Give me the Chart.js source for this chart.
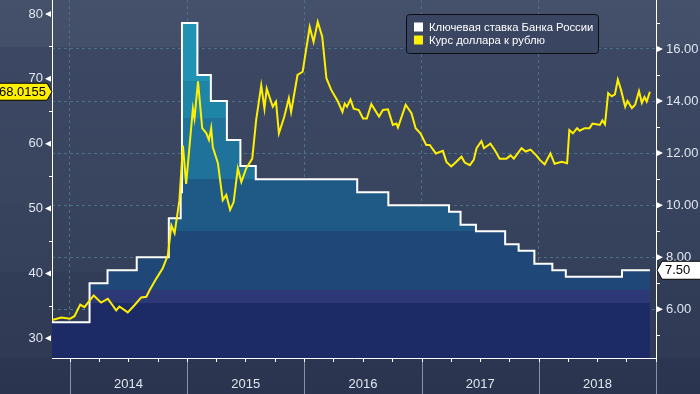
<!DOCTYPE html>
<html>
<head>
<meta charset="utf-8">
<script src="https://cdn.jsdelivr.net/npm/chart.js@4.4.1/dist/chart.umd.min.js"></script>
<style>
  html, body { margin: 0; padding: 0; background: #2b3550; }
  #wrap { width: 700px; height: 394px; }
</style>
</head>
<body>
<div id="wrap"><canvas id="chart" width="700" height="394"></canvas></div>
<script>
const fontFamily = "'Liberation Sans', Arial, sans-serif";
const labelColor = '#dfe6f0';
const gridColor = '#4b7089';

const rateLabel = 'Ключевая ставка Банка России';
const usdLabel = 'Курс доллара к рублю';

// ключевая ставка ЦБ (дата изменения -> значение), правая ось
const rateDates = ['2013-11-06', '2014-03-03', '2014-04-28', '2014-07-28', '2014-11-05', '2014-12-12',
  '2014-12-16', '2015-02-02', '2015-03-16', '2015-05-05', '2015-06-16', '2015-08-03', '2016-06-14',
  '2016-09-19', '2017-03-27', '2017-05-02', '2017-06-19', '2017-09-18', '2017-10-30', '2017-12-18',
  '2018-02-12', '2018-03-26', '2018-09-17', '2018-12-13'];
const rateValues = [5.5, 7, 7.5, 8, 9.5, 10.5, 17, 15, 14, 12.5, 11.5, 11, 10.5,
  10, 9.75, 9.25, 9, 8.5, 8.25, 7.75, 7.5, 7.25, 7.5, 7.5];

// курс USD/RUB, левая ось
const usdDates = ['2013-11-06', '2013-12-05', '2014-01-01', '2014-01-15', '2014-02-02', '2014-02-15',
  '2014-03-16', '2014-04-08', '2014-04-29', '2014-05-25', '2014-06-04', '2014-06-30', '2014-07-21',
  '2014-08-11', '2014-08-27', '2014-09-06', '2014-09-27', '2014-10-17', '2014-11-02', '2014-11-13',
  '2014-11-23', '2014-12-08', '2014-12-19', '2014-12-29', '2015-01-19', '2015-01-24', '2015-02-04',
  '2015-02-17', '2015-03-02', '2015-03-10', '2015-03-17', '2015-03-22', '2015-04-07', '2015-04-22',
  '2015-05-03', '2015-05-15', '2015-05-26', '2015-06-08', '2015-06-19', '2015-07-04', '2015-07-23',
  '2015-08-04', '2015-08-20', '2015-08-30', '2015-09-06', '2015-09-25', '2015-10-05', '2015-10-14',
  '2015-10-31', '2015-11-14', '2015-11-21', '2015-12-11', '2015-12-27', '2016-01-18', '2016-01-30',
  '2016-02-12', '2016-02-26', '2016-03-10', '2016-03-25', '2016-04-15', '2016-04-29', '2016-05-06',
  '2016-05-13', '2016-05-24', '2016-06-03', '2016-06-19', '2016-07-02', '2016-07-14', '2016-07-28',
  '2016-08-21', '2016-09-02', '2016-09-18', '2016-10-03', '2016-10-14', '2016-10-19', '2016-11-12',
  '2016-11-30', '2016-12-13', '2016-12-28', '2017-01-15', '2017-01-26', '2017-02-14', '2017-03-08',
  '2017-03-19', '2017-04-03', '2017-04-14', '2017-05-05', '2017-05-15', '2017-05-31', '2017-06-12',
  '2017-06-21', '2017-07-06', '2017-07-14', '2017-08-03', '2017-08-17', '2017-09-01', '2017-09-22',
  '2017-10-05', '2017-10-15', '2017-11-08', '2017-11-21', '2017-12-06', '2017-12-24', '2018-01-04',
  '2018-01-19', '2018-02-06', '2018-02-19', '2018-03-13', '2018-03-30', '2018-04-06', '2018-04-17',
  '2018-04-30', '2018-05-08', '2018-05-24', '2018-06-08', '2018-06-17', '2018-06-29', '2018-07-10',
  '2018-07-18', '2018-07-26', '2018-08-05', '2018-08-16', '2018-08-26', '2018-09-04', '2018-09-14',
  '2018-09-27', '2018-10-04', '2018-10-18', '2018-10-28', '2018-11-09', '2018-11-18', '2018-11-26',
  '2018-12-03', '2018-12-13'];
const usdValues = [32.8, 33.2, 33.0, 33.4, 35.2, 34.8,
  36.6, 35.5, 36.1, 34.3, 34.9, 34.0, 35.1,
  36.3, 36.4, 37.4, 39.2, 40.8, 42.8, 47.4,
  46.2, 51.3, 59.7, 53.8, 65.4, 63.9, 69.6,
  62.4, 61.6, 60.6, 62.4, 59.5, 57.0, 51.3,
  52.1, 49.8, 51.0, 56.2, 54.1, 56.2, 57.7,
  63.6, 69.0, 65.4, 68.5, 65.7, 66.5, 61.6,
  64.2, 67.0, 64.9, 70.6, 71.1, 78.0, 75.7,
  78.8, 76.5, 70.1, 68.3, 66.5, 64.9, 66.2,
  65.7, 66.8, 65.4, 65.2, 63.9, 63.9, 66.1,
  64.2, 65.2, 65.3, 62.9, 63.1, 62.5, 66.0,
  64.7, 62.4, 61.6, 59.8, 59.8, 58.5, 58.9,
  57.2, 56.5, 57.0, 58.0, 57.1, 56.7, 57.5,
  59.3, 60.4, 59.3, 60.0, 59.0, 57.7, 57.7,
  58.2, 57.7, 59.3, 58.8, 59.1, 58.2, 57.5,
  56.8, 58.5, 56.9, 57.2, 57.0, 62.1, 61.6,
  62.4, 62.0, 62.4, 62.4, 63.1, 63.0, 62.9,
  63.6, 63.0, 67.8, 67.3, 67.6, 69.9, 68.3,
  65.7, 66.6, 65.5, 66.0, 68.1, 66.3, 67.2,
  66.5, 68.0155];

const years = [2014, 2015, 2016, 2017, 2018];
const leftTicks = [30, 40, 50, 60, 70, 80];
const rightTicks = [6, 8, 10, 12, 14, 16];

const toTime = d => Date.parse(d);

// полосы заливки под ставкой (верхняя граница полосы по правой оси)
const fillBands = [
  [17.9, '#2193b2'],
  [14.75, '#1f85a7'],
  [13.35, '#1f739a'],
  [11.0, '#1f5a86'],
  [9.0, '#1f4777'],
  [6.75, '#2d3977'],
  [6.25, '#1c2b66'],
];

const rateFill = (context) => {
  const { chart } = context;
  const { ctx, chartArea, scales } = chart;
  if (!chartArea) return 'transparent';
  const h = chartArea.bottom - chartArea.top;
  const frac = v => Math.min(1, Math.max(0, (scales.y2.getPixelForValue(v) - chartArea.top) / h));
  const g = ctx.createLinearGradient(0, chartArea.top, 0, chartArea.bottom);
  fillBands.forEach(([edge, color], i) => {
    const next = i + 1 < fillBands.length ? frac(fillBands[i + 1][0]) : 1;
    g.addColorStop(frac(edge), color);
    g.addColorStop(next, color);
  });
  return g;
};

const decor = {
  id: 'decor',
  beforeDraw(chart) {
    const { ctx, width, height } = chart;
    const g = ctx.createLinearGradient(0, 0, 0, height);
    const f = y => y / height;
    g.addColorStop(0, '#45516a');
    g.addColorStop(f(47), '#434f68');
    g.addColorStop(f(47.5), '#3c4863');
    g.addColorStop(f(205), '#39445f');
    g.addColorStop(f(205.5), '#37425d');
    g.addColorStop(f(272), '#35405b');
    g.addColorStop(f(272.5), '#313c57');
    g.addColorStop(f(357), '#303a55');
    g.addColorStop(f(358), '#2c3651');
    g.addColorStop(1, '#2a344f');
    ctx.save();
    ctx.fillStyle = g;
    ctx.fillRect(0, 0, width, height);
    ctx.restore();
  },
  afterDraw(chart) {
    const { ctx, chartArea: area, scales, height } = chart;
    const xs = scales.x, yl = scales.y, yr = scales.y2;
    ctx.save();

    // кварталы и разделители лет
    for (let y = 2013; y <= 2019; y++) {
      for (let m = 0; m < 12; m += 3) {
        const t = Date.UTC(y, m, 1);
        if (t < xs.min || t > xs.max) continue;
        const px = Math.round(xs.getPixelForValue(t)) + 0.5;
        ctx.lineWidth = 1;
        if (m === 0) {
          ctx.strokeStyle = '#8791a3';
          ctx.beginPath(); ctx.moveTo(px, area.bottom); ctx.lineTo(px, height); ctx.stroke();
        }
        ctx.strokeStyle = '#ffffff';
        ctx.beginPath(); ctx.moveTo(px, area.bottom); ctx.lineTo(px, area.bottom + 4); ctx.stroke();
      }
    }
    ctx.fillStyle = labelColor;
    ctx.font = `13px ${fontFamily}`;
    ctx.textAlign = 'center';
    ctx.textBaseline = 'middle';
    years.forEach(y => {
      const a = xs.getPixelForValue(Date.UTC(y, 0, 1));
      const b = xs.getPixelForValue(Date.UTC(y + 1, 0, 1));
      ctx.fillText(String(y), (a + b) / 2, 384);
    });

    // малые засечки и треугольники на осях
    ctx.strokeStyle = '#ffffff';
    ctx.fillStyle = '#ffffff';
    [35, 45, 55, 65, 75].forEach(v => {
      const py = Math.round(yl.getPixelForValue(v)) + 0.5;
      ctx.beginPath(); ctx.moveTo(area.left - 3, py); ctx.lineTo(area.left, py); ctx.stroke();
    });
    leftTicks.forEach(v => {
      const py = yl.getPixelForValue(v);
      ctx.beginPath();
      ctx.moveTo(area.left - 7, py); ctx.lineTo(area.left - 1, py - 3); ctx.lineTo(area.left - 1, py + 3);
      ctx.closePath(); ctx.fill();
    });
    [5, 7, 9, 11, 13, 15, 17].forEach(v => {
      const py = Math.round(yr.getPixelForValue(v)) + 0.5;
      ctx.beginPath(); ctx.moveTo(area.right, py); ctx.lineTo(area.right + 4, py); ctx.stroke();
    });
    rightTicks.forEach(v => {
      const py = yr.getPixelForValue(v);
      ctx.beginPath();
      ctx.moveTo(area.right + 7, py); ctx.lineTo(area.right + 1, py - 3); ctx.lineTo(area.right + 1, py + 3);
      ctx.closePath(); ctx.fill();
    });

    // последние значения
    const usdLast = usdValues[usdValues.length - 1];
    let py = yl.getPixelForValue(usdLast);
    ctx.beginPath();
    ctx.moveTo(-1, py - 8.5); ctx.lineTo(area.left - 5, py - 8.5); ctx.lineTo(area.left, py);
    ctx.lineTo(area.left - 5, py + 8.5); ctx.lineTo(-1, py + 8.5); ctx.closePath();
    ctx.fillStyle = '#fff000'; ctx.fill();
    ctx.strokeStyle = '#000'; ctx.lineWidth = 1; ctx.stroke();
    ctx.fillStyle = '#000';
    ctx.textAlign = 'right';
    ctx.fillText(String(usdLast), area.left - 6, py + 0.5);

    const rateLast = rateValues[rateValues.length - 1];
    py = yr.getPixelForValue(rateLast);
    ctx.beginPath();
    ctx.moveTo(area.right + 1, py); ctx.lineTo(area.right + 6, py - 9); ctx.lineTo(701, py - 9);
    ctx.lineTo(701, py + 9); ctx.lineTo(area.right + 6, py + 9); ctx.closePath();
    ctx.fillStyle = '#ffffff'; ctx.fill();
    ctx.strokeStyle = '#000'; ctx.stroke();
    ctx.fillStyle = '#000';
    ctx.textAlign = 'left';
    ctx.fillText(rateLast.toFixed(2), area.right + 9, py + 0.5);

    // легенда
    const lx = 406.5, ly = 14.5, lw = 192, lh = 39;
    ctx.beginPath();
    ctx.roundRect(lx, ly, lw, lh, 3);
    ctx.fillStyle = '#3a4661'; ctx.fill();
    ctx.strokeStyle = '#0b0d12'; ctx.lineWidth = 1; ctx.stroke();
    ctx.font = `11.3px ${fontFamily}`;
    ctx.textAlign = 'left';
    [[rateLabel, '#ffffff', 27], [usdLabel, '#fff000', 40]].forEach(([text, color, ty]) => {
      ctx.fillStyle = color;
      ctx.fillRect(414, ty - 4.5, 9, 9);
      ctx.fillStyle = '#ffffff';
      ctx.fillText(text, 429, ty + 0.5);
    });

    ctx.restore();
  }
};

Chart.defaults.font.family = fontFamily;

new Chart(document.getElementById('chart'), {
  type: 'line',
  data: {
    datasets: [
      {
        label: usdLabel,
        data: usdDates.map((d, i) => ({ x: toTime(d), y: usdValues[i] })),
        yAxisID: 'y',
        borderColor: '#fff000',
        borderWidth: 2,
        pointRadius: 0,
        tension: 0,
        fill: false,
        order: 1,
      },
      {
        label: rateLabel,
        data: rateDates.map((d, i) => ({ x: toTime(d), y: rateValues[i] })),
        yAxisID: 'y2',
        stepped: true,
        borderColor: '#ffffff',
        borderWidth: 2,
        pointRadius: 0,
        fill: 'start',
        backgroundColor: rateFill,
        order: 2,
      },
    ],
  },
  options: {
    responsive: false,
    animation: false,
    devicePixelRatio: 1,
    layout: { padding: 0 },
    plugins: { legend: { display: false }, tooltip: { enabled: false } },
    scales: {
      x: {
        type: 'linear',
        min: toTime('2013-11-06'),
        max: toTime('2019-01-01'),
        z: 1,
        afterBuildTicks: s => { s.ticks = years.map(y => ({ value: Date.UTC(y, 0, 1) })); },
        afterFit: s => { s.height = 36; s.paddingLeft = 0; s.paddingRight = 0; },
        ticks: { display: false },
        grid: { color: gridColor, drawTicks: false, lineWidth: 1 },
        border: { color: '#ffffff', width: 1, dash: [3, 3] },
      },
      y: {
        position: 'left',
        min: 26.96,
        max: 82.16,
        z: 1,
        afterBuildTicks: s => { s.ticks = leftTicks.map(v => ({ value: v })); },
        afterFit: s => { s.width = 52; s.paddingTop = 0; s.paddingBottom = 0; },
        ticks: { color: labelColor, font: { size: 13 }, padding: 9 },
        grid: { display: false, drawTicks: false },
        border: { color: '#ffffff', width: 1 },
      },
      y2: {
        position: 'right',
        min: 4.13,
        max: 17.88,
        z: 1,
        afterBuildTicks: s => { s.ticks = rightTicks.map(v => ({ value: v })); },
        afterFit: s => { s.width = 44; s.paddingTop = 0; s.paddingBottom = 0; },
        ticks: { color: labelColor, font: { size: 13 }, padding: 10, callback: v => v.toFixed(2) },
        grid: { color: gridColor, drawTicks: false, lineWidth: 1 },
        border: { color: '#ffffff', width: 1, dash: [3, 3] },
      },
    },
  },
  plugins: [decor],
});
</script>
</body>
</html>
